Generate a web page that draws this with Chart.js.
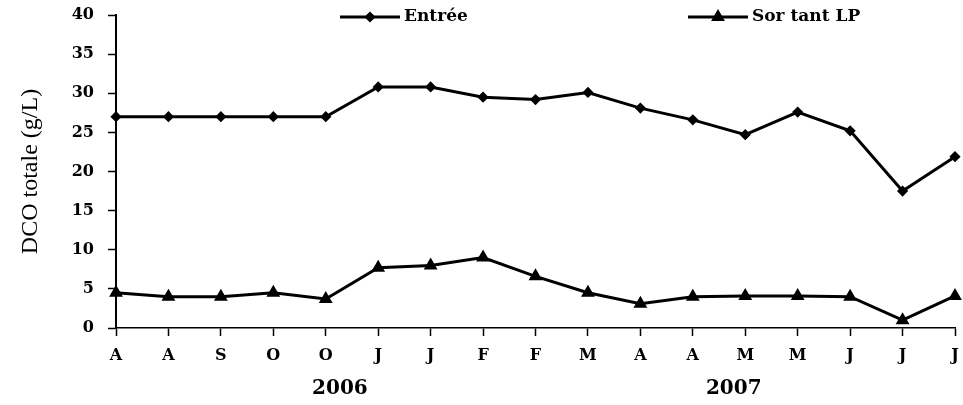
<!DOCTYPE html>
<html>
<head>
<meta charset="utf-8">
<script src="https://cdn.jsdelivr.net/npm/chart.js@4"></script>
<style>
  html, body { margin: 0; padding: 0; background: #fff; }
  #wrap { width: 963px; height: 405px; }
</style>
</head>
<body>
<div id="wrap"><canvas id="dcoChart" width="963" height="405"></canvas></div>
<script>
// Data
const months = ['A', 'A', 'S', 'O', 'O', 'J', 'J', 'F', 'F', 'M', 'A', 'A', 'M', 'M', 'J', 'J', 'J'];
const entree = [27, 27, 27, 27, 27, 30.8, 30.8, 29.5, 29.2, 30.1, 28.1, 26.6, 24.7, 27.6, 25.2, 17.5, 21.9];
const sortant = [4.5, 4, 4, 4.5, 3.7, 7.7, 8, 9, 6.6, 4.5, 3.1, 4, 4.1, 4.1, 4, 1, 4.1];
const yTicks = [0, 5, 10, 15, 20, 25, 30, 35, 40];
const years = [{ text: '2006', at: 4.27 }, { text: '2007', at: 11.78 }];

const serif = '"Liberation Serif", "Times New Roman", serif';
const wide = '"DejaVu Serif", serif';

// draws the year labels under the axis and the legend on top
const extras = {
    id: 'extras',
    afterDraw(chart) {
        const c = chart.ctx;
        const x = chart.scales.x;
        c.save();
        c.fillStyle = '#000';
        c.font = 'bold 20px ' + wide;
        c.textAlign = 'center';
        c.textBaseline = 'middle';
        years.forEach(y => {
            const i = Math.floor(y.at);
            const a = x.getPixelForValue(i);
            const b = x.getPixelForValue(i + 1);
            c.fillText(y.text, a + (b - a) * (y.at - i), 389);
        });

        // legend
        const items = [
            { label: 'Entrée', x0: 340, style: 'rectRot', r: 3.5 },
            { label: 'Sor tant LP', x0: 688, style: 'triangle', r: 5 }
        ];
        c.font = 'bold 17px ' + wide;
        c.textAlign = 'left';
        items.forEach(it => {
            c.strokeStyle = '#000';
            c.lineWidth = 3;
            c.beginPath();
            c.moveTo(it.x0, 17);
            c.lineTo(it.x0 + 60, 17);
            c.stroke();
            Chart.helpers.drawPoint(c, { pointStyle: it.style, radius: it.r, borderWidth: 1 }, it.x0 + 30, 17);
            c.fillText(it.label, it.x0 + 64, 17);
        });
        c.restore();
    }
};

const ctx = document.getElementById('dcoChart').getContext('2d');
const chart = new Chart(ctx, {
    type: 'line',
    data: {
        labels: months,
        datasets: [{
            label: 'Entrée',
            data: entree,
            borderColor: '#000',
            backgroundColor: '#000',
            borderWidth: 3,
            pointStyle: 'rectRot',
            pointRadius: 3.5,
            tension: 0
        }, {
            label: 'Sortant LP',
            data: sortant,
            borderColor: '#000',
            backgroundColor: '#000',
            borderWidth: 3,
            pointStyle: 'triangle',
            pointRadius: 5,
            tension: 0
        }]
    },
    options: {
        responsive: false,
        animation: false,
        layout: { padding: { top: 15, right: 8, left: 0, bottom: 0 } },
        plugins: {
            legend: { display: false },
            tooltip: { enabled: false }
        },
        scales: {
            x: {
                offset: false,
                grid: {
                    display: true,
                    drawOnChartArea: false,
                    color: '#000',
                    tickLength: 8,
                    tickWidth: 1.5
                },
                border: { color: '#000', width: 1.5 },
                ticks: {
                    color: '#000',
                    maxRotation: 0,
                    autoSkip: false,
                    padding: 10,
                    font: { family: wide, size: 16, weight: 'bold' }
                },
                afterFit(s) {
                    s.height = 77;
                    s.paddingLeft = 0;
                    s.paddingRight = 0;
                }
            },
            y: {
                min: 0,
                max: 40,
                afterBuildTicks(s) { s.ticks = yTicks.map(v => ({ value: v })); },
                grid: {
                    display: true,
                    drawOnChartArea: false,
                    color: '#000',
                    tickLength: 8,
                    tickWidth: 1.5
                },
                border: { color: '#000', width: 2 },
                ticks: {
                    color: '#000',
                    padding: 14,
                    font: { family: wide, size: 16, weight: 'bold' }
                },
                title: {
                    display: true,
                    text: 'DCO totale (g/L)',
                    color: '#000',
                    padding: { top: 16, bottom: 0 },
                    font: { family: serif, size: 24 }
                },
                afterFit(s) {
                    s.width = 116;
                    s.paddingTop = 0;
                    s.paddingBottom = 0;
                }
            }
        }
    },
    plugins: [extras]
});
</script>
</body>
</html>
